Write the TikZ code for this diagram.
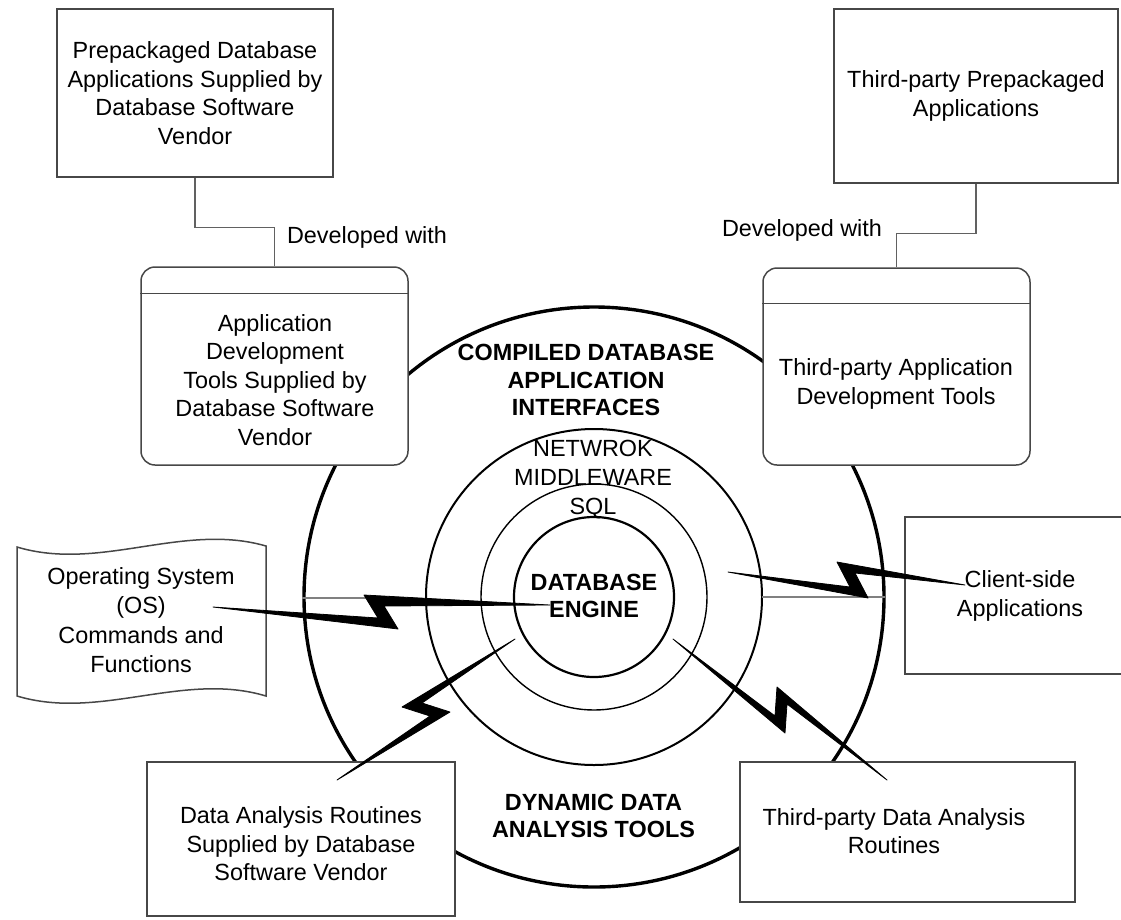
\documentclass[tikz,border=0pt]{standalone}
\usepackage{fontspec}
\setmainfont{Liberation Sans}
\usetikzlibrary{calc}
% lightning connector: start, first tip, second tip, end, offset that sets the zig width
\newcommand\zbolt[5]{%
  \filldraw[black, line width=0.8pt, line join=round]
    (#1) -- (#2) -- ($(#3)-(#5)$) -- (#4) -- (#3) -- ($(#2)+(#5)$) -- cycle;}
\begin{document}
\begin{tikzpicture}[x=1pt,y=-1pt,
  lbl/.style={font=\fontsize{23.4}{28.5}\selectfont, align=center, inner sep=0pt},
  hdr/.style={font=\fontsize{23.4}{27.8}\selectfont\bfseries, align=center, inner sep=0pt},
  frame/.style={draw=black!72, line width=1.5pt, fill=white},
  link/.style={draw=black!62, line width=1.5pt},
  faint/.style={draw=black!50, line width=1.3pt},
]
\useasboundingbox (0,0) rectangle (1121,919);

% concentric layers
\coordinate (ctr) at (594,597);
\draw[line width=3.4pt] (ctr) circle[radius=290];
\draw[line width=2pt] (ctr) circle[radius=168];
\draw[line width=1.4pt] (ctr) circle[radius=113];
\draw[line width=2.2pt] (ctr) circle[radius=80];

% faint horizontal strokes
\coordinate (fl1) at (302,598); \coordinate (fl2) at (366,598);
\coordinate (fr1) at (762,597); \coordinate (fr2) at (885,597);
\draw[faint] (fl1) -- (fl2);
\draw[faint] (fr1) -- (fr2);

% top boxes
\node[frame, lbl, minimum width=276, minimum height=168] (pkgdb) at (195,93)
  {Prepackaged Database\\Applications Supplied by\\Database Software\\Vendor};
\node[frame, lbl, minimum width=284, minimum height=174] (pkg3) at (976,96)
  {Third-party Prepackaged\\Applications};

% development tool boxes
\node[frame, rounded corners=14, minimum width=267, minimum height=198] (devl) at (274.5,366) {};
\draw[frame] ($(devl.north west)+(0,27)$) -- ($(devl.north east)+(0,27)$);
\node[lbl] (devlt) at (275,380)
  {Application\\Development\\Tools Supplied by\\Database Software\\Vendor};

\node[frame, rounded corners=14, minimum width=267, minimum height=197] (dev3) at (896.5,366.5) {};
\draw[frame] ($(dev3.north west)+(0,36)$) -- ($(dev3.north east)+(0,36)$);
\node[lbl] (dev3t) at (896,384) {Third-party Application\\Development Tools};

% "developed with" links
\draw[link] (pkgdb.south) |- ($(devl.north)+(0,-39)$) -- (devl.north);
\draw[link] (pkg3.south) |- ($(dev3.north)+(0,-34)$) -- (dev3.north);
\node[lbl] (devw1) at (367,237) {Developed with};
\node[lbl] (devw2) at (802,230) {Developed with};

% client side
\node[frame, minimum width=230, minimum height=157] (client) at (1020,595.5) {};
\node[lbl] (clientt) at (1020,596) {Client-side\\Applications};

% operating system (tape shape)
\draw[frame] (17,547) .. controls (100,572) and (183,522) .. (266,546)
  -- (266,696) .. controls (183,671) and (100,721) .. (17,696) -- cycle;
\node[lbl, font=\fontsize{23.4}{29.5}\selectfont] (os) at (141,620)
  {Operating System\\(OS)\\Commands and\\Functions};

% bottom boxes
\node[frame, minimum width=308, minimum height=154] (dal) at (301,839) {};
\node[lbl] (dalt) at (301,844) {Data Analysis Routines\\Supplied by Database\\Software Vendor};
\node[frame, minimum width=335, minimum height=140] (da3) at (907.5,832) {};
\node[lbl] (da3t) at (894,831) {Third-party Data Analysis\\Routines};

% layer names
\node[hdr] (cdai) at (586,380) {COMPILED DATABASE\\APPLICATION\\INTERFACES};
\node[lbl, font=\fontsize{23.4}{29}\selectfont] (nms) at (593,480) {NETWROK\\MIDDLEWARE\\SQL};
\node[hdr] (eng) at (594,596) {DATABASE\\ENGINE};
\node[hdr] (ddat) at (593.5,816) {DYNAMIC DATA\\ANALYSIS TOOLS};

% lightning connectors
\coordinate (b1a) at (213,607); \coordinate (b1b) at (398,629);
\coordinate (b1c) at (364,595); \coordinate (b1d) at (550,605);
\zbolt{b1a}{b1b}{b1c}{b1d}{-20,-11}

\coordinate (b2a) at (728,572); \coordinate (b2b) at (868,598);
\coordinate (b2c) at (837,562); \coordinate (b2d) at (965,585);
\zbolt{b2a}{b2b}{b2c}{b2d}{-18,-11}

\coordinate (b3a) at (515,639); \coordinate (b3b) at (402,707);
\coordinate (b3c) at (450,712); \coordinate (b3d) at (337,780);
\zbolt{b3a}{b3b}{b3c}{b3d}{20,-4}

\coordinate (b4a) at (673,639); \coordinate (b4b) at (785,733);
\coordinate (b4c) at (777,687); \coordinate (b4d) at (887,780);
\zbolt{b4a}{b4b}{b4c}{b4d}{-10,-17}
\end{tikzpicture}
\end{document}
